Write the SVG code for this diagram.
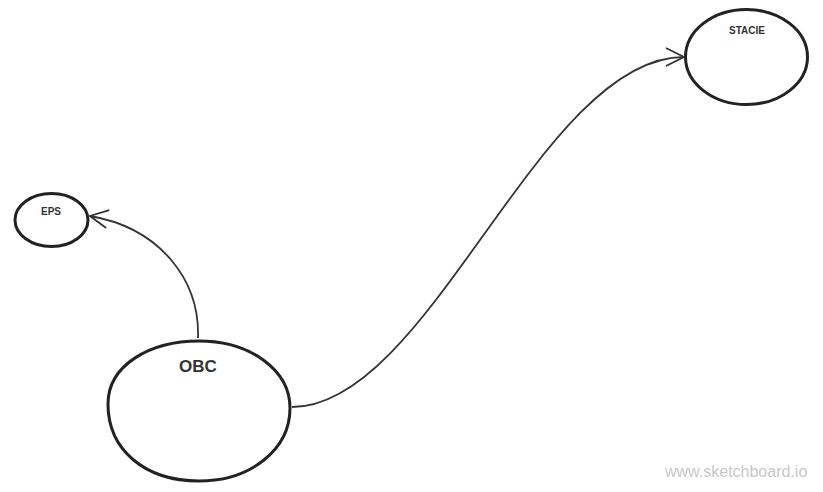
<svg xmlns="http://www.w3.org/2000/svg" width="823" height="492" viewBox="0 0 823 492">
<style>
.node{fill:#fff;stroke:#222;stroke-width:3}
.lbl{font-family:"Liberation Sans",Arial,sans-serif;font-weight:bold;fill:#333;text-anchor:middle}
.conn{fill:none;stroke:#333;stroke-width:1.8}
.wm{font-family:"Liberation Sans",Arial,sans-serif;font-size:16px;fill:#c8c8c8}
</style>
<defs>
<marker id="arr" viewBox="0 0 22 22" refX="20" refY="11" markerWidth="22" markerHeight="22" markerUnits="userSpaceOnUse" orient="auto">
<path d="M2,2 L20,11 L2,20" fill="none" stroke="#333" stroke-width="1.8"/>
</marker>
</defs>
<rect width="823" height="492" fill="#fff"/>
<g id="connectors">
<path class="conn" d="M198,338 C200,280 160,228 90,216" marker-end="url(#arr)"/>
<path class="conn" d="M292,407 C430,407 540,57 684,57" marker-end="url(#arr)"/>
</g>
<g id="EPS">
<ellipse class="node" cx="51.5" cy="220" rx="36.5" ry="26.5"/>
<text class="lbl" x="51" y="215" font-size="10">EPS</text>
</g>
<g id="OBC">
<path class="node" d="M199,341 C250,341 290,370 290,408 C290,450 250,481 199,481 C145,481 108,450 108,404 C108,365 150,341 199,341 Z"/>
<text class="lbl" x="198" y="372" font-size="17">OBC</text>
</g>
<g id="STACIE">
<ellipse class="node" cx="746.5" cy="57" rx="61" ry="47.5"/>
<text class="lbl" x="747" y="34" font-size="10">STACIE</text>
</g>
<text class="wm" x="665" y="477">www.sketchboard.io</text>
</svg>
